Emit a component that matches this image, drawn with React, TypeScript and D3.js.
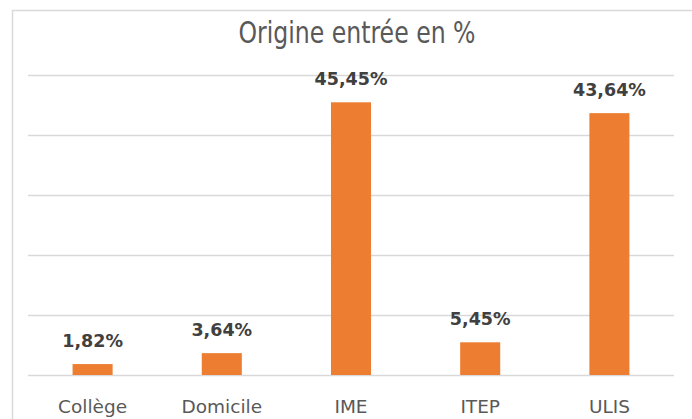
import React, { useEffect, useRef } from "react";
import * as d3 from "d3";

// Chart data
const categories = ["Collège", "Domicile", "IME", "ITEP", "ULIS"];
const values = [1.82, 3.64, 45.45, 5.45, 43.64];
const yTicks = [0, 10, 20, 30, 40, 50];
const title = "Origine entrée en %";

const App = () => {
  const chartRef = useRef<SVGSVGElement | null>(null);

  useEffect(() => {
    const width = 692;
    const height = 419;
    const marginTop = 75;
    const marginRight = 18;
    const marginBottom = 44;
    const marginLeft = 28;
    const font = "'DejaVu Sans', sans-serif";
    const condensed = "'DejaVu Sans Condensed', 'DejaVu Sans', sans-serif";

    const svg = d3.select(chartRef.current);
    svg.selectAll("*").remove();

    const x = d3
      .scaleBand<string>()
      .domain(categories)
      .range([marginLeft, width - marginRight])
      .paddingInner(0.69)
      .paddingOuter(0.345);

    const y = d3
      .scaleLinear()
      .domain([0, 50])
      .range([height - marginBottom, marginTop]);

    // chart area frame (only top and left are visible)
    svg
      .append("path")
      .attr("d", `M12.5,${height} V10.5 H${width}`)
      .attr("fill", "none")
      .attr("stroke", "#d9d9d9")
      .attr("stroke-width", 1.5);

    // gridlines
    svg
      .append("g")
      .selectAll("line")
      .data(yTicks)
      .join("line")
      .attr("x1", marginLeft)
      .attr("x2", width - marginRight)
      .attr("y1", (d) => Math.round(y(d)) + 0.5)
      .attr("y2", (d) => Math.round(y(d)) + 0.5)
      .attr("stroke", "#d9d9d9")
      .attr("stroke-width", 1.5);

    // bars
    svg
      .append("g")
      .attr("fill", "#ED7D31")
      .selectAll("rect")
      .data(values)
      .join("rect")
      .attr("x", (d, i) => x(categories[i])!)
      .attr("y", (d) => y(d))
      .attr("width", x.bandwidth())
      .attr("height", (d) => y(0) - y(d));

    // data labels
    svg
      .append("g")
      .attr("font-family", font)
      .attr("font-weight", "bold")
      .attr("font-size", 17.5)
      .attr("fill", "#404040")
      .attr("text-anchor", "middle")
      .selectAll("text")
      .data(values)
      .join("text")
      .attr("x", (d, i) => x(categories[i])! + x.bandwidth() / 2)
      .attr("y", (d) => y(d) - 17)
      .text((d) => d.toFixed(2).replace(".", ",") + "%");

    // category labels
    svg
      .append("g")
      .attr("font-family", font)
      .attr("font-size", 18.5)
      .attr("fill", "#595959")
      .attr("text-anchor", "middle")
      .selectAll("text")
      .data(categories)
      .join("text")
      .attr("x", (d) => x(d)! + x.bandwidth() / 2)
      .attr("y", 413)
      .text((d) => d);

    // title
    svg
      .append("text")
      .attr("x", 357)
      .attr("y", 43)
      .attr("text-anchor", "middle")
      .attr("font-family", condensed)
      .attr("font-size", 30)
      .attr("textLength", 237)
      .attr("lengthAdjust", "spacingAndGlyphs")
      .attr("fill", "#595959")
      .text(title);
  }, []);

  return (
    <svg
      ref={chartRef}
      width={692}
      height={419}
      style={{ position: "absolute", left: 0, top: 0, background: "#fff" }}
    />
  );
};

export default App;
